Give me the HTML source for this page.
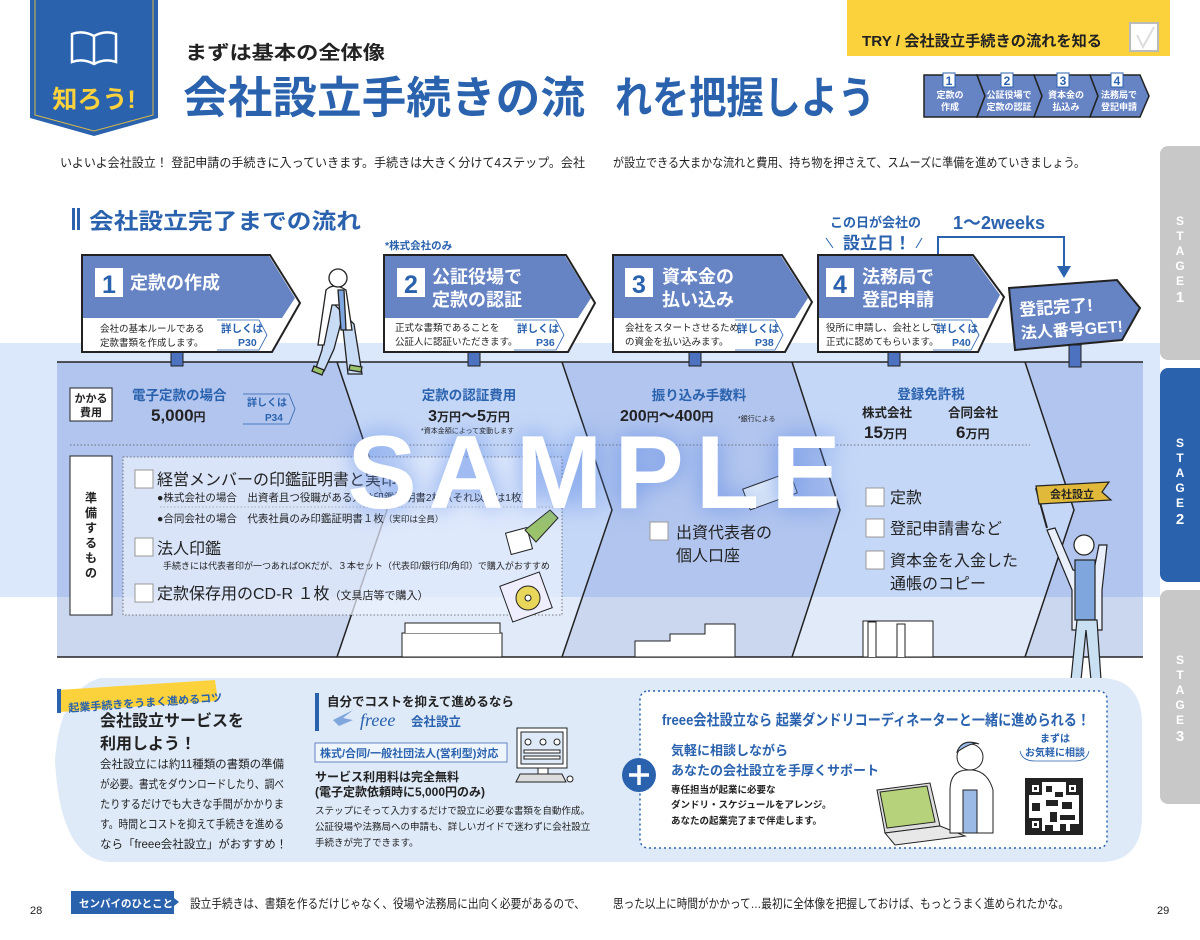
<!DOCTYPE html>
<html><head><meta charset="utf-8"><style>
html,body{margin:0;padding:0;background:#fff;}
svg{display:block;font-family:"Liberation Sans","Noto Sans CJK JP",sans-serif;}
.b{font-weight:bold;}
</style></head><body>
<svg width="1200" height="940" viewBox="0 0 1200 940" xmlns="http://www.w3.org/2000/svg">
<defs>
<clipPath id="top"><rect x="0" y="343" width="1200" height="254"/></clipPath>
<clipPath id="bot"><rect x="0" y="597" width="1200" height="70"/></clipPath>
<filter id="glow" x="-20%" y="-50%" width="140%" height="200%"><feGaussianBlur stdDeviation="12"/></filter>
</defs>

<polygon points="30,0 158,0 158,118 94,136 30,118" fill="#2a62ae"/>
<polyline points="35,0 35,115 94,131 153,115 153,0" fill="none" stroke="#d6b848" stroke-width="1"/>
<path d="M72,34 q11,-4 22,2 q11,-6 22,-2 v28 q-11,-4 -22,2 q-11,-6 -22,-2z M94,36 v28" fill="none" stroke="#fff" stroke-width="2.5"/>
<text x="94" y="108" text-anchor="middle" class="b" font-size="25" fill="#fcd23c">知ろう!</text>

<text x="185" y="59" class="b" font-size="19" fill="#222" textLength="200" lengthAdjust="spacingAndGlyphs">まずは基本の全体像</text>
<text x="183" y="113" class="b" font-size="44" fill="#2a62ae" textLength="402" lengthAdjust="spacingAndGlyphs">会社設立手続きの流</text>
<text x="615" y="113" class="b" font-size="44" fill="#2a62ae" textLength="260" lengthAdjust="spacingAndGlyphs">れを把握しよう</text>

<rect x="847" y="0" width="323" height="56" fill="#fcd23c"/>
<text x="862" y="46" class="b" font-size="15" fill="#222" textLength="240" lengthAdjust="spacingAndGlyphs">TRY / 会社設立手続きの流れを知る</text>
<rect x="1130" y="23" width="28" height="28" fill="#fff" stroke="#bbb" stroke-width="2"/>
<path d="M1137,35 l6,12 l11,-20" fill="none" stroke="#ddd" stroke-width="2"/>

<polygon points="924,75 977,75 985,96 977,117 924,117" fill="#6683c4" stroke="#222" stroke-width="1.5"/>
<polygon points="977,75 1034,75 1042,96 1034,117 977,117 985,96" fill="#6683c4" stroke="#222" stroke-width="1.5"/>
<polygon points="1034,75 1090,75 1098,96 1090,117 1034,117 1042,96" fill="#6683c4" stroke="#222" stroke-width="1.5"/>
<polygon points="1090,75 1140,75 1149,96 1140,117 1090,117 1098,96" fill="#6683c4" stroke="#222" stroke-width="1.5"/>
<g font-size="9" fill="#fff" class="b" text-anchor="middle">
<rect x="943" y="73" width="12" height="14" fill="#fff" stroke="#2a62ae"/><text x="949" y="85" fill="#2a62ae" font-size="12">1</text>
<rect x="1001" y="73" width="12" height="14" fill="#fff" stroke="#2a62ae"/><text x="1007" y="85" fill="#2a62ae" font-size="12">2</text>
<rect x="1057" y="73" width="12" height="14" fill="#fff" stroke="#2a62ae"/><text x="1063" y="85" fill="#2a62ae" font-size="12">3</text>
<rect x="1111" y="73" width="12" height="14" fill="#fff" stroke="#2a62ae"/><text x="1117" y="85" fill="#2a62ae" font-size="12">4</text>
<text x="950" y="98">定款の</text><text x="950" y="110">作成</text>
<text x="1009" y="98">公証役場で</text><text x="1009" y="110">定款の認証</text>
<text x="1066" y="98">資本金の</text><text x="1066" y="110">払込み</text>
<text x="1119" y="98">法務局で</text><text x="1119" y="110">登記申請</text>
</g>

<text x="60" y="167" font-size="12.5" fill="#222" textLength="525" lengthAdjust="spacingAndGlyphs">いよいよ会社設立！ 登記申請の手続きに入っていきます。手続きは大きく分けて4ステップ。会社</text>
<text x="613" y="167" font-size="12.5" fill="#222" textLength="472" lengthAdjust="spacingAndGlyphs">が設立できる大まかな流れと費用、持ち物を押さえて、スムーズに準備を進めていきましょう。</text>

<path d="M1168,146 h32 v214 h-32 a8,8 0 0 1 -8,-8 v-198 a8,8 0 0 1 8,-8z" fill="#c8c8c8"/>
<path d="M1168,368 h32 v214 h-32 a8,8 0 0 1 -8,-8 v-198 a8,8 0 0 1 8,-8z" fill="#2a62ae"/>
<path d="M1168,590 h32 v214 h-32 a8,8 0 0 1 -8,-8 v-198 a8,8 0 0 1 8,-8z" fill="#c8c8c8"/>
<g font-size="12" class="b" fill="#fff" text-anchor="middle">
<text x="1180" y="225">S</text><text x="1180" y="240">T</text><text x="1180" y="255">A</text><text x="1180" y="270">G</text><text x="1180" y="285">E</text><text x="1180" y="302" font-size="15">1</text>
<text x="1180" y="447">S</text><text x="1180" y="462">T</text><text x="1180" y="477">A</text><text x="1180" y="492">G</text><text x="1180" y="507">E</text><text x="1180" y="524" font-size="15">2</text>
<text x="1180" y="664">S</text><text x="1180" y="679">T</text><text x="1180" y="694">A</text><text x="1180" y="709">G</text><text x="1180" y="724">E</text><text x="1180" y="741" font-size="15">3</text>
</g>

<rect x="72" y="208" width="3" height="22" fill="#2a62ae"/><rect x="77" y="208" width="3" height="22" fill="#2a62ae"/>
<text x="89" y="229" class="b" font-size="22" fill="#2a62ae" textLength="272" lengthAdjust="spacingAndGlyphs">会社設立完了までの流れ</text>

<rect x="0" y="343" width="1160" height="254" fill="#dbe7fb"/>

<g clip-path="url(#top)">
<polygon points="57,362 337,362 387,510 337,657 57,657" fill="#b2c5ee"/>
<polygon points="337,362 562,362 612,510 562,657 337,657 387,510" fill="#c5d7f7"/>
<polygon points="562,362 792,362 840,510 792,657 562,657 612,510" fill="#b2c5ee"/>
<polygon points="792,362 1025,362 1074,510 1025,657 792,657 840,510" fill="#c5d7f7"/>
<polygon points="1025,362 1143,362 1143,657 1025,657 1074,510" fill="#b2c5ee"/>
</g>
<g clip-path="url(#bot)">
<polygon points="57,362 337,362 387,510 337,657 57,657" fill="#cbd7ef"/>
<polygon points="337,362 562,362 612,510 562,657 337,657 387,510" fill="#e0eaf9"/>
<polygon points="562,362 792,362 840,510 792,657 562,657 612,510" fill="#cbd7ef"/>
<polygon points="792,362 1025,362 1074,510 1025,657 792,657 840,510" fill="#e0eaf9"/>
<polygon points="1025,362 1143,362 1143,657 1025,657 1074,510" fill="#cbd7ef"/>
</g>
<g fill="none" stroke="#222" stroke-width="1.5">
<polyline points="337,362 387,510 337,657"/><polyline points="562,362 612,510 562,657"/>
<polyline points="792,362 840,510 792,657"/><polyline points="1025,362 1074,510 1025,657"/>
<line x1="57" y1="362" x2="1143" y2="362"/><line x1="57" y1="657" x2="1143" y2="657"/>
</g>
<g fill="#fff" stroke="#222" stroke-width="1">
<path d="M402,657 v-24 h100 v24z"/><path d="M405,633 v-10 h95 v10"/>
<path d="M635,657 v-16 h35 v-7 h35 v-10 h30 v33z"/>
<path d="M863,657 v-36 h70 v36z"/><path d="M868,657 v-35 h8 v35 M897,657 v-33 h8 v33"/>
</g>

<g fill="#4d72bf" stroke="#222" stroke-width="1">
<rect x="171" y="350" width="12" height="16"/><rect x="468" y="350" width="12" height="16"/>
<rect x="689" y="350" width="12" height="16"/><rect x="888" y="350" width="12" height="16"/>
<rect x="1069" y="345" width="12" height="22"/>
</g>

<g stroke="#222" stroke-width="2">
<polygon points="82,255 270,255 300,303 272,352 82,352" fill="#fff"/>
<polygon points="384,255 566,255 595,303 568,352 384,352" fill="#fff"/>
<polygon points="613,255 782,255 812,302 785,352 613,352" fill="#fff"/>
<polygon points="818,255 973,255 1004,297 978,352 818,352" fill="#fff"/>
</g>
<g fill="#6683c4">
<polygon points="83,256 269,256 295,298 282,318 83,318"/>
<polygon points="385,256 565,256 591,298 578,318 385,318"/>
<polygon points="614,256 781,256 808,298 795,318 614,318"/>
<polygon points="819,256 972,256 1000,295 988,318 819,318"/>
</g>
<polygon points="1009,288 1117,280 1140,308 1122,340 1015,350" fill="#6683c4" stroke="#222" stroke-width="2"/>
<text x="1020" y="313" class="b" font-size="17" fill="#fff" transform="rotate(-4 1060 320)">登記完了!</text>
<text x="1020" y="336" class="b" font-size="16" fill="#fff" transform="rotate(-4 1060 320)">法人番号GET!</text>

<g class="b">
<rect x="95" y="268" width="28" height="29" fill="#fff"/><text x="109" y="293" text-anchor="middle" font-size="25" fill="#2a62ae">1</text>
<text x="130" y="289" font-size="18" fill="#fff">定款の作成</text>
<rect x="397" y="268" width="28" height="29" fill="#fff"/><text x="411" y="293" text-anchor="middle" font-size="25" fill="#2a62ae">2</text>
<text x="432" y="283" font-size="18" fill="#fff">公証役場で</text><text x="432" y="306" font-size="18" fill="#fff">定款の認証</text>
<rect x="625" y="268" width="28" height="29" fill="#fff"/><text x="639" y="293" text-anchor="middle" font-size="25" fill="#2a62ae">3</text>
<text x="662" y="283" font-size="18" fill="#fff">資本金の</text><text x="662" y="306" font-size="18" fill="#fff">払い込み</text>
<rect x="826" y="268" width="28" height="29" fill="#fff"/><text x="840" y="293" text-anchor="middle" font-size="25" fill="#2a62ae">4</text>
<text x="862" y="283" font-size="18" fill="#fff">法務局で</text><text x="862" y="306" font-size="18" fill="#fff">登記申請</text>
</g>
<g font-size="9.5" fill="#222">
<text x="100" y="332">会社の基本ルールである</text><text x="100" y="346">定款書類を作成します。</text>
<text x="395" y="331">正式な書類であることを</text><text x="395" y="345">公証人に認証いただきます。</text>
<text x="625" y="331">会社をスタートさせるため</text><text x="625" y="345">の資金を払い込みます。</text>
<text x="826" y="331">役所に申請し、会社として</text><text x="826" y="345">正式に認めてもらいます。</text>
</g>
<g class="b" font-size="10.5" fill="#2a62ae">
<text x="221" y="332">詳しくは</text><text x="238" y="346">P30</text>
<path d="M217,320 h42 l8,15 l-8,15 h-42" fill="none" stroke="#2a62ae" stroke-width="0.8"/>
<text x="517" y="332">詳しくは</text><text x="536" y="346">P36</text>
<path d="M514,320 h42 l8,15 l-8,15 h-42" fill="none" stroke="#2a62ae" stroke-width="0.8"/>
<text x="737" y="332">詳しくは</text><text x="755" y="346">P38</text>
<path d="M735,320 h40 l8,15 l-8,15 h-40" fill="none" stroke="#2a62ae" stroke-width="0.8"/>
<text x="936" y="332">詳しくは</text><text x="952" y="346">P40</text>
<path d="M933,320 h38 l8,15 l-8,15 h-38" fill="none" stroke="#2a62ae" stroke-width="0.8"/>
</g>
<text x="385" y="249" class="b" font-size="10.5" fill="#2a62ae">*株式会社のみ</text>
<text x="830" y="227" class="b" font-size="13" fill="#2a62ae">この日が会社の</text>
<text x="843" y="249" class="b" font-size="17" fill="#2a62ae">設立日！</text>
<path d="M826,238 l7,10 M922,238 l-6,10" stroke="#2a62ae" stroke-width="1"/>
<text x="953" y="229" class="b" font-size="18" fill="#2a62ae">1〜2weeks</text>
<polyline points="938,254 938,237 1064,237 1064,268" fill="none" stroke="#2a62ae" stroke-width="2"/>
<polygon points="1057,266 1071,266 1064,278" fill="#2a62ae"/>

<g stroke="#222" stroke-width="1.3" fill="#fff">
<path d="M330,300 l-8,50 l-6,18 l8,3 l10,-22 l8,-30 l6,55 l14,0 l-8,-50 z" fill="#c9dcf5"/>
<path d="M326,290 q8,-8 20,0 l6,40 l-6,0 l-2,-25 l-12,0 l-8,40 l-6,0 z"/>
<path d="M338,290 l3,40 l5,0 l-2,-40z" fill="#7fa6dd"/>
<circle cx="338" cy="278" r="9"/>
<path d="M314,366 l10,4 l-2,5 l-10,-4z M350,365 l12,2 l-1,5 l-12,-2z" fill="#9bc36b"/>
</g>

<rect x="70" y="388" width="42" height="33" fill="#fff" stroke="#222" stroke-width="1"/>
<text x="91" y="402" text-anchor="middle" class="b" font-size="11" fill="#222">かかる</text>
<text x="91" y="416" text-anchor="middle" class="b" font-size="11" fill="#222">費用</text>
<text x="132" y="400" class="b" font-size="13.5" fill="#2a62ae">電子定款の場合</text>
<text x="151" y="421" class="b" font-size="17" fill="#222">5,000<tspan font-size="12">円</tspan></text>
<text x="247" y="406" class="b" font-size="10" fill="#2a62ae">詳しくは</text><text x="265" y="421" class="b" font-size="10" fill="#2a62ae">P34</text>
<path d="M243,394 h46 l6,15 l-6,15 h-46" fill="none" stroke="#2a62ae" stroke-width="0.8"/>
<text x="469" y="400" text-anchor="middle" class="b" font-size="13.5" fill="#2a62ae">定款の認証費用</text>
<text x="469" y="421" text-anchor="middle" class="b" font-size="16" fill="#222">3<tspan font-size="12">万円</tspan>〜5<tspan font-size="12">万円</tspan></text>
<text x="421" y="433" font-size="7" fill="#222">*資本金額によって変動します</text>
<text x="699" y="400" text-anchor="middle" class="b" font-size="13.5" fill="#2a62ae">振り込み手数料</text>
<text x="620" y="421" class="b" font-size="16" fill="#222">200<tspan font-size="12">円</tspan>〜400<tspan font-size="12">円</tspan></text>
<text x="738" y="421" font-size="7" fill="#222">*銀行による</text>
<text x="931" y="399" text-anchor="middle" class="b" font-size="13.5" fill="#2a62ae">登録免許税</text>
<text x="862" y="417" font-size="12.5" fill="#222" class="b">株式会社</text>
<text x="948" y="417" font-size="12.5" fill="#222" class="b">合同会社</text>
<text x="864" y="438" class="b" font-size="17" fill="#222">15<tspan font-size="12">万円</tspan></text>
<text x="956" y="438" class="b" font-size="17" fill="#222">6<tspan font-size="12">万円</tspan></text>
<line x1="70" y1="445" x2="1030" y2="445" stroke="#555" stroke-width="0.8" stroke-dasharray="1.5,2"/>

<rect x="70" y="456" width="42" height="159" fill="#fff" stroke="#222" stroke-width="1"/>
<g class="b" font-size="12" fill="#222" text-anchor="middle">
<text x="91" y="502">準</text><text x="91" y="517">備</text><text x="91" y="532">す</text><text x="91" y="547">る</text><text x="91" y="562">も</text><text x="91" y="577">の</text>
</g>
<rect x="123" y="457" width="439" height="158" fill="#eaf1fd" fill-opacity="0.7" stroke="#555" stroke-width="0.8" stroke-dasharray="1.5,2"/>
<g fill="#fff" stroke="#999" stroke-width="1">
<rect x="135" y="470" width="18" height="18"/><rect x="135" y="538" width="18" height="18"/><rect x="135" y="584" width="18" height="18"/>
<rect x="650" y="522" width="18" height="18"/>
<rect x="866" y="488" width="18" height="18"/><rect x="866" y="519" width="18" height="18"/><rect x="866" y="551" width="18" height="18"/>
</g>
<text x="157" y="485" font-size="16" fill="#222">経営メンバーの印鑑証明書と実印</text>
<text x="157" y="501" font-size="10.5" fill="#222">●株式会社の場合　出資者且つ役職がある人は印鑑証明書2枚（それ以外は1枚）</text>
<line x1="160" y1="507" x2="555" y2="507" stroke="#777" stroke-width="0.6" stroke-dasharray="1.5,2"/>
<text x="157" y="522" font-size="10.5" fill="#222">●合同会社の場合　代表社員のみ印鑑証明書１枚<tspan font-size="8.5">（実印は全員）</tspan></text>
<text x="157" y="554" font-size="16" fill="#222">法人印鑑</text>
<text x="163" y="569" font-size="9" fill="#222">手続きには代表者印が一つあればOKだが、３本セット（代表印/銀行印/角印）で購入がおすすめ</text>
<text x="157" y="599" font-size="16" fill="#222">定款保存用のCD-R １枚<tspan font-size="11">（文具店等で購入）</tspan></text>
<g stroke="#222" stroke-width="1">
<rect x="508" y="530" width="22" height="22" fill="#fff" transform="rotate(-15 519 541)"/>
<path d="M525,530 l25,-20 l8,8 l-22,24z" fill="#9bc36b"/>
<rect x="505" y="578" width="42" height="38" fill="#eef" transform="rotate(-20 526 597)"/>
<circle cx="528" cy="598" r="12" fill="#e8d75a"/><circle cx="528" cy="598" r="3" fill="#fff"/>
<rect x="745" y="480" width="50" height="22" fill="#e3edf9" transform="rotate(-20 770 491)"/>
</g>
<text x="676" y="538" font-size="16" fill="#222">出資代表者の</text>
<text x="676" y="561" font-size="16" fill="#222">個人口座</text>
<text x="890" y="503" font-size="16" fill="#222">定款</text>
<text x="890" y="534" font-size="16" fill="#222">登記申請書など</text>
<text x="890" y="566" font-size="16" fill="#222">資本金を入金した</text>
<text x="890" y="589" font-size="16" fill="#222">通帳のコピー</text>

<g stroke="#222" stroke-width="1.2">
<line x1="1036" y1="488" x2="1047" y2="528" stroke-width="2"/>
<path d="M1036,486 l73,-4 l-7,10 l9,8 l-72,4z" fill="#e0b93a"/>
<path d="M1047,530 l25,60 l0,40 l30,0 l0,-40 l5,-45 l-8,0 l-6,30 l-20,-5 l-18,-42z" fill="#eaf0fb"/>
<rect x="1075" y="560" width="20" height="60" fill="#7fa6dd"/>
<path d="M1077,620 l-6,60 l10,0 l5,-50 l5,50 l10,0 l-4,-60z" fill="#c9e0f3"/>
<circle cx="1084" cy="545" r="10" fill="#fff"/>
</g>
<text x="1072" y="498" class="b" font-size="11" fill="#222" text-anchor="middle">会社設立</text>

<text x="600" y="508" text-anchor="middle" font-size="104" class="b" fill="#5d8ae6" letter-spacing="12" filter="url(#glow)" opacity="0.8">SAMPLE</text>
<text x="600" y="508" text-anchor="middle" font-size="104" class="b" fill="#fff" letter-spacing="12">SAMPLE</text>

<path d="M100,678 L1100,678 Q1140,678 1142,720 L1142,820 Q1140,862 1100,862 L110,862 Q60,860 55,760 Q60,690 100,678z" fill="#dfeaf8"/>
<polygon points="58,690 215,680 218,701 60,712" fill="#fcd23c"/>
<rect x="57" y="689" width="4" height="24" fill="#2a62ae"/>
<text x="68" y="707" class="b" font-size="11" fill="#2a62ae" transform="rotate(-4 140 700)">起業手続きをうまく進めるコツ</text>
<text x="100" y="726" class="b" font-size="16" fill="#222">会社設立サービスを</text>
<text x="100" y="749" class="b" font-size="16" fill="#222">利用しよう！</text>
<g font-size="11.5" fill="#222">
<text x="100" y="768" textLength="184" lengthAdjust="spacingAndGlyphs">会社設立には約11種類の書類の準備</text>
<text x="100" y="788" textLength="184" lengthAdjust="spacingAndGlyphs">が必要。書式をダウンロードしたり、調べ</text>
<text x="100" y="808" textLength="184" lengthAdjust="spacingAndGlyphs">たりするだけでも大きな手間がかかりま</text>
<text x="100" y="828" textLength="184" lengthAdjust="spacingAndGlyphs">す。時間とコストを抑えて手続きを進める</text>
<text x="100" y="848">なら「freee会社設立」がおすすめ！</text>
</g>
<rect x="315" y="693" width="4" height="38" fill="#2a62ae"/>
<text x="327" y="706" class="b" font-size="12.5" fill="#222">自分でコストを抑えて進めるなら</text>
<text x="360" y="726" font-size="18" font-style="italic" fill="#2a62ae" font-family="Liberation Serif, serif">freee</text>
<text x="411" y="726" class="b" font-size="12.5" fill="#2a62ae">会社設立</text>
<path d="M333,720 l20,-10 l-10,8 l10,2 l-14,6z" fill="#7fa6dd"/>
<rect x="315" y="743" width="192" height="19" fill="#fff" fill-opacity="0.5" stroke="#6683c4"/>
<text x="320" y="757" class="b" font-size="11" fill="#2a62ae">株式/合同/一般社団法人(営利型)対応</text>
<text x="315" y="781" class="b" font-size="12" fill="#222">サービス利用料は完全無料</text>
<text x="315" y="796" class="b" font-size="12" fill="#222">(電子定款依頼時に5,000円のみ)</text>
<g font-size="9.5" fill="#222">
<text x="315" y="814">ステップにそって入力するだけで設立に必要な書類を自動作成。</text>
<text x="315" y="830">公証役場や法務局への申請も、詳しいガイドで迷わずに会社設立</text>
<text x="315" y="846">手続きが完了できます。</text>
</g>
<g stroke="#222" stroke-width="1" fill="#fff">
<rect x="517" y="728" width="50" height="40"/><rect x="521" y="732" width="42" height="32" fill="#dfeaf8"/>
<rect x="538" y="768" width="10" height="6"/><path d="M520,774 h42 l4,8 h-50z" fill="#ddd"/>
<circle cx="570" cy="779" r="3"/>
<rect x="524" y="750" width="36" height="3"/><rect x="524" y="756" width="36" height="3"/>
<circle cx="528" cy="742" r="3"/><circle cx="543" cy="742" r="3"/><circle cx="557" cy="742" r="3"/>
</g>

<rect x="640" y="691" width="467" height="157" rx="8" fill="#fff" stroke="#2a62ae" stroke-width="1.5" stroke-dasharray="2,3"/>
<circle cx="639" cy="775" r="17" fill="#2a62ae"/>
<path d="M639,765 v20 M629,775 h20" stroke="#fff" stroke-width="3.5"/>
<text x="662" y="725" class="b" font-size="15" fill="#2a62ae" textLength="428" lengthAdjust="spacingAndGlyphs">freee会社設立なら 起業ダンドリコーディネーターと一緒に進められる！</text>
<text x="671" y="755" class="b" font-size="13" fill="#2a62ae">気軽に相談しながら</text>
<text x="671" y="775" class="b" font-size="13" fill="#2a62ae">あなたの会社設立を手厚くサポート</text>
<g font-size="9.5" fill="#222" class="b">
<text x="671" y="793">専任担当が起業に必要な</text>
<text x="671" y="808">ダンドリ・スケジュールをアレンジ。</text>
<text x="671" y="824">あなたの起業完了まで伴走します。</text>
</g>
<g stroke="#222" stroke-width="1">
<polygon points="877,790 930,783 940,826 885,833" fill="#ddd"/>
<polygon points="880,792 927,786 935,822 887,828" fill="#b6d27a"/>
<polygon points="885,833 940,826 965,836 895,845" fill="#e8e8e8"/>
<path d="M950,790 q0,-20 18,-20 h5 q15,2 20,20 v43 h-43z" fill="#fff"/>
<rect x="963" y="790" width="14" height="43" fill="#9bbbe6"/>
<circle cx="970" cy="757" r="13" fill="#fff"/>
<path d="M957,752 q5,-14 22,-8 q-6,-3 -22,8z" fill="#9bbbe6"/>
</g>
<text x="1055" y="742" class="b" font-size="10" fill="#2a62ae" text-anchor="middle">まずは</text>
<text x="1055" y="756" class="b" font-size="10" fill="#2a62ae" text-anchor="middle">お気軽に相談</text>
<path d="M1020,751 q2,10 15,10 h40 q12,0 14,-10" fill="none" stroke="#2a62ae" stroke-width="0.8"/>
<rect x="1025" y="778" width="58" height="57" fill="#222"/>
<rect x="1029" y="782" width="50" height="49" fill="#fff"/>
<g fill="#222">
<rect x="1029" y="782" width="13" height="13"/><rect x="1066" y="782" width="13" height="13"/><rect x="1029" y="818" width="13" height="13"/>
<rect x="1046" y="786" width="6" height="6"/><rect x="1055" y="792" width="8" height="5"/><rect x="1046" y="800" width="12" height="6"/>
<rect x="1032" y="803" width="8" height="8"/><rect x="1062" y="802" width="10" height="7"/><rect x="1050" y="812" width="7" height="10"/>
<rect x="1060" y="815" width="15" height="5"/><rect x="1045" y="825" width="8" height="6"/><rect x="1060" y="824" width="6" height="7"/><rect x="1070" y="824" width="9" height="7"/>
</g>
<g fill="#fff"><rect x="1032" y="785" width="7" height="7"/><rect x="1069" y="785" width="7" height="7"/><rect x="1032" y="821" width="7" height="7"/></g>
<g fill="#222"><rect x="1034" y="787" width="3" height="3"/><rect x="1071" y="787" width="3" height="3"/><rect x="1034" y="823" width="3" height="3"/></g>

<text x="30" y="914" font-size="11" fill="#222">28</text>
<rect x="71" y="891" width="103" height="23" fill="#2a62ae"/>
<polygon points="174,898 179,902 174,906" fill="#2a62ae"/>
<text x="79" y="907" class="b" font-size="10.5" fill="#fff">センパイのひとこと</text>
<text x="190" y="908" font-size="12.5" fill="#222" textLength="395" lengthAdjust="spacingAndGlyphs">設立手続きは、書類を作るだけじゃなく、役場や法務局に出向く必要があるので、</text>
<text x="613" y="908" font-size="12.5" fill="#222" textLength="456" lengthAdjust="spacingAndGlyphs">思った以上に時間がかかって…最初に全体像を把握しておけば、もっとうまく進められたかな。</text>
<text x="1157" y="914" font-size="11" fill="#222">29</text>
</svg>
</body></html>
